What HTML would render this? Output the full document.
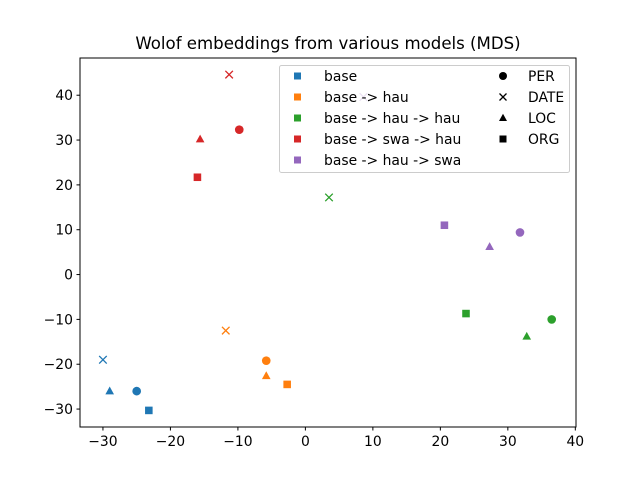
<!DOCTYPE html>
<html><head><meta charset="utf-8"><style>body{margin:0;background:#fff}svg{display:block;font-family:"DejaVu Sans","Liberation Sans",sans-serif}</style></head>
<body>
<svg id="chart" width="640" height="480">
<rect width="640" height="480" fill="#fff"/>
<text x="328" y="49" font-size="16.6" text-anchor="middle">Wolof embeddings from various models (MDS)</text>
<g id="plot"></g>
</svg>
<script>
const models = ["base","base -> hau","base -> hau -> hau","base -> swa -> hau","base -> hau -> swa"];
const colors = ["#1f77b4","#ff7f0e","#2ca02c","#d62728","#9467bd"];
const types = ["PER","DATE","LOC","ORG"];
const xs = [
  [-25,-30,-29,-23.2],
  [-5.8,-11.8,-5.8,-2.7],
  [36.5,3.5,32.8,23.8],
  [-9.8,-11.3,-15.6,-16],
  [31.8,8.6,27.3,20.6]
];
const ys = [
  [-26,-19,-26,-30.3],
  [-19.2,-12.5,-22.6,-24.5],
  [-10,17.2,-13.8,-8.7],
  [32.3,44.6,30.2,21.7],
  [9.4,39.6,6.2,11]
];
const xTicks = [-30,-20,-10,0,10,20,30,40];
const yTicks = [-30,-20,-10,0,10,20,30,40];
const L=80,R=576,T=58,B=427, xmin=-33.4,xmax=40.1,ymin=-34.0,ymax=48.3;
const sx=v=>L+(v-xmin)/(xmax-xmin)*(R-L);
const sy=v=>B-(v-ymin)/(ymax-ymin)*(B-T);
const NS="http://www.w3.org/2000/svg";
const g=document.getElementById('plot');
function mk(tag,attrs,parent){const e=document.createElementNS(NS,tag);for(const k in attrs)e.setAttribute(k,attrs[k]);(parent||g).appendChild(e);return e;}
function marker(type,cx,cy,col,s,parent){
  if(type==="PER") return mk('circle',{cx,cy,r:s*0.8,fill:col},parent);
  if(type==="DATE") return mk('path',{d:`M${cx-s*0.7},${cy-s*0.7}L${cx+s*0.7},${cy+s*0.7}M${cx-s*0.7},${cy+s*0.7}L${cx+s*0.7},${cy-s*0.7}`,stroke:col,'stroke-width':1.3,fill:'none'},parent);
  if(type==="LOC") return mk('path',{d:`M${cx},${cy-s*0.85}L${cx+s*0.8},${cy+s*0.6}L${cx-s*0.8},${cy+s*0.6}Z`,fill:col},parent);
  return mk('rect',{x:cx-s*0.7,y:cy-s*0.7,width:s*1.4,height:s*1.4,fill:col},parent);
}
for(let m=0;m<models.length;m++)for(let t=0;t<types.length;t++){
  const e=marker(types[t],sx(xs[m][t]),sy(ys[m][t]),colors[m],5.4);
  
  
}
const fr=mk('rect',{x:L,y:T,width:R-L,height:B-T,fill:'none',stroke:'#000','stroke-width':1});


xTicks.forEach(v=>{const x=sx(v);mk('line',{x1:x,x2:x,y1:B,y2:B+3.5,stroke:'#000'});
  const t=mk('text',{x:x,y:B+19,'font-size':13.9,'text-anchor':'middle'});t.textContent=v<0?'\u2212'+(-v):v;
  
  });
yTicks.forEach(v=>{const y=sy(v);mk('line',{x1:L,x2:L-3.5,y1:y,y2:y,stroke:'#000'});
  const t=mk('text',{x:L-7,y:y+5,'font-size':13.9,'text-anchor':'end'});t.textContent=v<0?'\u2212'+(-v):v;
  
  });
const lg=mk('g',{});


mk('rect',{x:279.5,y:65.5,width:290,height:107,rx:2,fill:'#fff','fill-opacity':0.8,stroke:'#ccc'},lg);
models.forEach((m,i)=>{const y=76+i*21;
  mk('rect',{x:294,y:y-3.5,width:7,height:7,fill:colors[i]},lg);
  const t=mk('text',{x:324,y:y+5,'font-size':13.9},lg);t.textContent=m;
  
  });
types.forEach((ty,i)=>{const y=76+i*21;
  marker(ty,503,y,'#000',5,lg);
  const t=mk('text',{x:528,y:y+5,'font-size':13.9},lg);t.textContent=ty;
  
  });
</script>
</body></html>
